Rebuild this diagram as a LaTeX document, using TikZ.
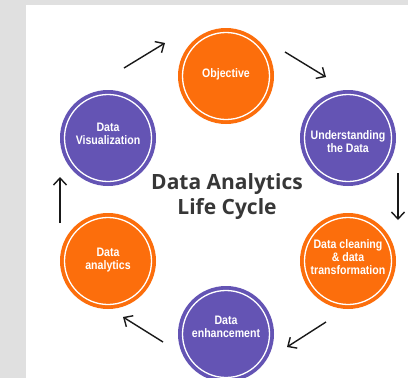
\documentclass[tikz,border=0pt]{standalone}
\usepackage{fontspec}
\setmainfont{Liberation Sans}
\newfontfamily\titlefont{Open Sans}
\newfontfamily\labfont[FakeStretch=0.86]{Liberation Sans}
\usetikzlibrary{arrows.meta,calc}
\definecolor{bggray}{RGB}{224,224,224}
\definecolor{orng}{RGB}{252,110,12}
\definecolor{purp}{RGB}{100,84,180}
\definecolor{titlegray}{RGB}{55,55,55}
\tikzset{
  stage/.style={circle,minimum size=96pt,inner sep=0pt,draw=none,
    path picture={\draw[white,line width=1.3pt] (path picture bounding box.center) circle (43.5pt);}},
  orstage/.style={stage,fill=orng},
  pustage/.style={stage,fill=purp},
  lbl/.style={text=white,align=center,font=\labfont\bfseries\fontsize{12.3}{13}\selectfont,inner sep=0pt},
  flow/.style={draw=black!90,line width=1.4pt,-{Straight Barb[length=7pt,width=13pt,line width=1.4pt]}}
}
\begin{document}
\begin{tikzpicture}[x=1pt,y=-1pt]
\useasboundingbox (0,0) rectangle (408,378);
\fill[bggray] (0,0) rectangle (408,378);
\fill[white] (26,5) rectangle (408,378);
% stages
\node[orstage] (obj) at (226,76) {};
\node[pustage] (und) at (348,138) {};
\node[orstage] (cln) at (348,261) {};
\node[pustage] (enh) at (226,334) {};
\node[orstage] (ana) at (108,261) {};
\node[pustage] (viz) at (108,138) {};
% labels
\node[lbl] (tobj) at (226,74) {Objective};
\node[lbl] (tund) at (348,142) {Understanding\\the Data};
\node[lbl] (tcln) at (348,257) {Data cleaning\\\&~data\\transformation};
\node[lbl] (tenh) at (226,327) {Data\\enhancement};
\node[lbl] (tana) at (108,260) {Data\\analytics};
\node[lbl] (tviz) at (108,134) {Data\\Visualization};
% title
\node[font=\titlefont\bfseries\fontsize{21}{25}\selectfont,text=titlegray,align=center] (title) at (227,197) {Data Analytics\\Life Cycle};
% arrow end points
\coordinate (a1s) at (124,68);  \coordinate (a1e) at (165,43);
\coordinate (a2s) at (285,52);  \coordinate (a2e) at (326,77);
\coordinate (a3s) at (398,173); \coordinate (a3e) at (398,220);
\coordinate (a4s) at (326,322); \coordinate (a4e) at (287,347);
\coordinate (a5s) at (163,342); \coordinate (a5e) at (123,317);
\coordinate (a6s) at (60,223);  \coordinate (a6e) at (60,177);
\draw[flow] (a1s) -- (a1e);
\draw[flow] (a2s) -- (a2e);
\draw[flow] (a3s) -- (a3e);
\draw[flow] (a4s) -- (a4e);
\draw[flow] (a5s) -- (a5e);
\draw[flow] (a6s) -- (a6e);
\end{tikzpicture}
\end{document}
